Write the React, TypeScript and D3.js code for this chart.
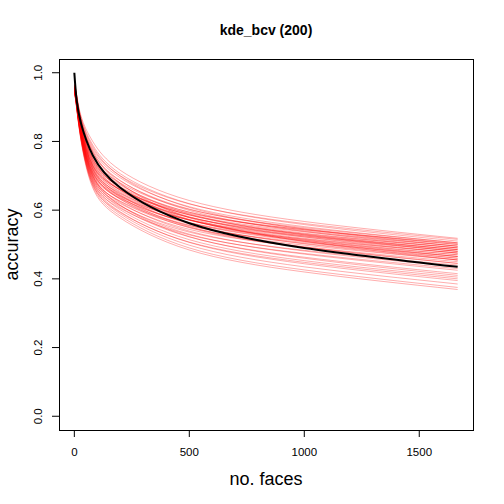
import React from 'react';
import * as d3 from 'd3';

// number of faces at which every run was sampled
const runFaces = [1, 10, 30, 80, 200, 500, 1000, 1667];
// mean curve
const meanFaces = [0, 10, 30, 80, 200, 500, 1000, 1667];
const meanAccuracy = [1.0, 0.92, 0.85, 0.76, 0.665, 0.562, 0.49, 0.435];

// accuracy of the individual runs
const runAccuracy: number[][] = [
  [0.968, 0.937, 0.872, 0.8, 0.716, 0.628, 0.567, 0.518],
  [0.966, 0.934, 0.867, 0.79, 0.706, 0.619, 0.558, 0.51],
  [0.965, 0.933, 0.864, 0.785, 0.699, 0.608, 0.545, 0.495],
  [0.964, 0.931, 0.861, 0.78, 0.7, 0.618, 0.561, 0.515],
  [0.963, 0.93, 0.858, 0.775, 0.694, 0.61, 0.552, 0.505],
  [0.962, 0.928, 0.856, 0.77, 0.686, 0.599, 0.538, 0.49],
  [0.961, 0.927, 0.853, 0.765, 0.685, 0.603, 0.546, 0.5],
  [0.96, 0.925, 0.85, 0.76, 0.676, 0.589, 0.528, 0.48],
  [0.959, 0.924, 0.847, 0.755, 0.679, 0.602, 0.549, 0.505],
  [0.958, 0.922, 0.845, 0.75, 0.673, 0.594, 0.54, 0.495],
  [0.958, 0.921, 0.843, 0.748, 0.666, 0.581, 0.522, 0.475],
  [0.957, 0.921, 0.842, 0.745, 0.666, 0.586, 0.53, 0.485],
  [0.956, 0.92, 0.84, 0.742, 0.668, 0.594, 0.543, 0.5],
  [0.956, 0.919, 0.839, 0.74, 0.658, 0.572, 0.513, 0.465],
  [0.956, 0.918, 0.838, 0.738, 0.662, 0.586, 0.533, 0.49],
  [0.955, 0.918, 0.836, 0.735, 0.658, 0.579, 0.525, 0.48],
  [0.954, 0.917, 0.835, 0.732, 0.659, 0.587, 0.537, 0.495],
  [0.954, 0.916, 0.834, 0.73, 0.651, 0.571, 0.515, 0.47],
  [0.954, 0.915, 0.832, 0.728, 0.654, 0.579, 0.528, 0.485],
  [0.953, 0.915, 0.831, 0.725, 0.644, 0.56, 0.502, 0.455],
  [0.953, 0.914, 0.83, 0.723, 0.647, 0.571, 0.518, 0.475],
  [0.952, 0.913, 0.828, 0.72, 0.649, 0.579, 0.531, 0.49],
  [0.952, 0.912, 0.827, 0.718, 0.641, 0.563, 0.509, 0.465],
  [0.951, 0.912, 0.825, 0.715, 0.643, 0.571, 0.522, 0.48],
  [0.951, 0.911, 0.824, 0.713, 0.632, 0.549, 0.491, 0.445],
  [0.95, 0.91, 0.823, 0.71, 0.636, 0.563, 0.512, 0.47],
  [0.95, 0.909, 0.821, 0.708, 0.632, 0.556, 0.503, 0.46],
  [0.949, 0.909, 0.82, 0.705, 0.634, 0.564, 0.516, 0.475],
  [0.949, 0.908, 0.819, 0.703, 0.622, 0.539, 0.481, 0.435],
  [0.948, 0.907, 0.817, 0.7, 0.625, 0.55, 0.498, 0.455],
  [0.948, 0.906, 0.816, 0.698, 0.626, 0.555, 0.506, 0.465],
  [0.947, 0.906, 0.814, 0.695, 0.614, 0.53, 0.472, 0.425],
  [0.947, 0.905, 0.813, 0.693, 0.619, 0.544, 0.493, 0.45],
  [0.946, 0.904, 0.812, 0.69, 0.608, 0.522, 0.463, 0.415],
  [0.946, 0.903, 0.81, 0.688, 0.612, 0.536, 0.483, 0.44],
  [0.945, 0.903, 0.809, 0.685, 0.601, 0.514, 0.453, 0.405],
  [0.944, 0.902, 0.807, 0.682, 0.605, 0.528, 0.474, 0.43],
  [0.944, 0.901, 0.806, 0.68, 0.595, 0.506, 0.444, 0.395],
  [0.943, 0.9, 0.803, 0.675, 0.589, 0.498, 0.435, 0.385],
  [0.942, 0.898, 0.801, 0.67, 0.583, 0.49, 0.426, 0.375],
  [0.941, 0.897, 0.798, 0.665, 0.577, 0.484, 0.42, 0.369],
  [0.958, 0.922, 0.845, 0.75, 0.664, 0.573, 0.51, 0.46],
  [0.952, 0.913, 0.828, 0.72, 0.638, 0.552, 0.493, 0.445],
  [0.948, 0.907, 0.817, 0.7, 0.614, 0.523, 0.46, 0.41],
  [0.962, 0.928, 0.856, 0.77, 0.678, 0.578, 0.509, 0.455],
  [0.954, 0.916, 0.834, 0.73, 0.66, 0.591, 0.543, 0.503],
  [0.95, 0.91, 0.823, 0.71, 0.64, 0.572, 0.525, 0.485],
  [0.943, 0.9, 0.803, 0.675, 0.593, 0.507, 0.448, 0.4],
];

const xTicks = [0, 500, 1000, 1500];
const yTicks = [0, 0.2, 0.4, 0.6, 0.8, 1.0];

const W = 504;
const H = 504;
const margin = { top: 59, right: 31, bottom: 74, left: 59 };
const font = '"Liberation Sans", Arial, Helvetica, sans-serif';

export default function App() {
  const left = margin.left;
  const right = W - margin.right;
  const top = margin.top;
  const bottom = H - margin.bottom;

  // R style 4% padding around the data range
  const xMax = d3.max(meanFaces)!;
  const xPad = xMax * 0.04;
  const x = d3.scaleLinear().domain([-xPad, xMax + xPad]).range([left, right]);
  const y = d3.scaleLinear().domain([-0.04, 1.04]).range([bottom, top]);

  const line = d3
    .line<[number, number]>()
    .x(d => x(d[0]))
    .y(d => y(d[1]))
    .curve(d3.curveNatural);

  const cx = (left + right) / 2;
  const cy = (top + bottom) / 2;

  return (
    <svg
      width={W}
      height={H}
      style={{ position: 'absolute', left: 0, top: 0, background: '#fff' }}
      fontFamily={font}
    >
      <rect x={0} y={0} width={W} height={H} fill="#fff" />

      {runAccuracy.map((run, i) => (
        <path
          key={i}
          d={line(run.map((v, j) => [runFaces[j], v] as [number, number]))!}
          fill="none"
          stroke="rgba(255,0,0,0.32)"
          strokeWidth={1}
        />
      ))}
      <path
        d={line(meanAccuracy.map((v, j) => [meanFaces[j], v] as [number, number]))!}
        fill="none"
        stroke="#000"
        strokeWidth={2}
      />

      {/* box */}
      <rect
        x={left + 0.5}
        y={top + 0.5}
        width={right - left}
        height={bottom - top}
        fill="none"
        stroke="#000"
        strokeWidth={1}
      />

      {/* x axis */}
      <line x1={x(xTicks[0])} x2={x(xTicks[xTicks.length - 1])} y1={bottom + 0.5} y2={bottom + 0.5} stroke="#000" />
      {xTicks.map(t => (
        <g key={t}>
          <line x1={x(t)} x2={x(t)} y1={bottom} y2={bottom + 7} stroke="#000" />
          <text x={x(t)} y={bottom + 26} textAnchor="middle" fontSize={11.5}>
            {t}
          </text>
        </g>
      ))}

      {/* y axis */}
      {yTicks.map(t => (
        <g key={t}>
          <line x1={left - 7} x2={left} y1={y(t)} y2={y(t)} stroke="#000" />
          <text
            transform={`translate(${left - 17},${y(t)}) rotate(-90)`}
            textAnchor="middle"
            fontSize={11.5}
          >
            {t.toFixed(1)}
          </text>
        </g>
      ))}

      <text x={cx} y={35} textAnchor="middle" fontSize={14} fontWeight="bold">
        kde_bcv (200)
      </text>
      <text x={cx} y={485} textAnchor="middle" fontSize={18}>
        no. faces
      </text>
      <text transform={`translate(18,${cy}) rotate(-90)`} textAnchor="middle" fontSize={18}>
        accuracy
      </text>
    </svg>
  );
}
